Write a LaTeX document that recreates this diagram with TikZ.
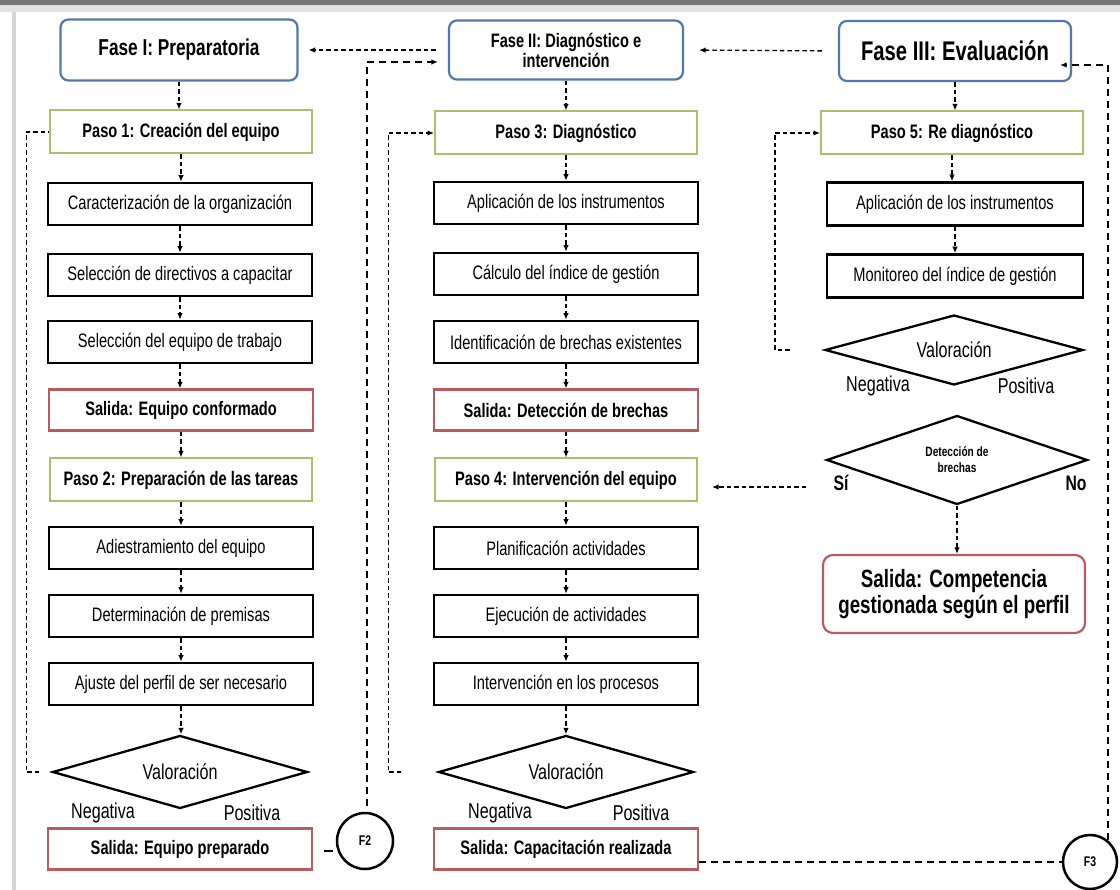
\documentclass[tikz,border=0pt]{standalone}
\usepackage{fontspec}
\setmainfont{Liberation Sans}[FakeStretch=0.75]
\usetikzlibrary{shapes.geometric,arrows.meta}
\definecolor{phaseblue}{RGB}{84,120,168}
\definecolor{pasogreen}{RGB}{168,192,112}
\definecolor{outred}{RGB}{185,92,96}
\definecolor{bardark}{RGB}{118,118,118}
\definecolor{barlight}{RGB}{226,226,226}
\definecolor{sideline}{RGB}{214,214,214}
\tikzset{
  phasebox/.style={draw=phaseblue,line width=2.2pt,rounded corners=8pt,fill=white,inner sep=0pt,align=center,font=\bfseries\fontsize{19.5}{20}\selectfont},
  pasobox/.style={draw=pasogreen,line width=2pt,inner sep=0pt,minimum width=262pt,minimum height=43pt,font=\bfseries\fontsize{19.5}{22}\selectfont},
  actbox/.style={draw=black,line width=2.6pt,inner sep=0pt,minimum width=264pt,minimum height=42pt,font=\fontsize{19.5}{22}\selectfont},
  outbox/.style={draw=outred,line width=2.2pt,inner sep=0pt,minimum width=264pt,minimum height=41pt,font=\bfseries\fontsize{19.5}{22}\selectfont},
  decbox/.style={diamond,aspect=3,draw=black,line width=2.3pt,inner sep=0pt,minimum width=255pt,minimum height=73pt,font=\fontsize{21.5}{23}\selectfont},
  lbl/.style={inner sep=0pt,font=\fontsize{21.5}{23}\selectfont},
  conn/.style={draw=black,circle,line width=2.5pt,inner sep=0pt,font=\bfseries\fontsize{14}{15}\selectfont},
  dsh/.style={line width=1.3pt,dash pattern=on 4.5pt off 3pt},
  bigdsh/.style={line width=1.9pt,dash pattern=on 7pt off 5pt},
  tip/.style={-{Latex[length=6.5pt,width=5.5pt]}}
}
\begin{document}
\begin{tikzpicture}[x=1pt,y=-1pt]
\useasboundingbox (0,0) rectangle (1120,890);
% frame
\fill[barlight] (0,4) rectangle (1120,12);
\fill[bardark] (0,0) rectangle (1120,5);
\fill[sideline] (12,12) rectangle (16,890);

% column 1
\node[phasebox,minimum width=237pt,minimum height=61pt,font=\bfseries\fontsize{23}{25}\selectfont] (f1) at (179,50) {Fase I: Preparatoria};
\node[pasobox] (p1) at (181,132) {Paso 1: Creación del equipo};
\node[actbox] (a1) at (180,204) {Caracterización de la organización};
\node[actbox] (a2) at (180,275) {Selección de directivos a capacitar};
\node[actbox] (a3) at (180,342) {Selección del equipo de trabajo};
\node[outbox] (s1) at (181,410) {Salida: Equipo conformado};
\node[pasobox] (p2) at (181,480) {Paso 2: Preparación de las tareas};
\node[actbox] (a4) at (181,548) {Adiestramiento del equipo};
\node[actbox] (a5) at (181,616) {Determinación de premisas};
\node[actbox] (a6) at (181,684) {Ajuste del perfil de ser necesario};
\node[decbox] (d1) at (180,772) {Valoración};
\node[lbl] (n1) at (103,813) {Negativa};
\node[lbl] (q1) at (252,813) {Positiva};
\node[outbox] (s2) at (180,849) {Salida: Equipo preparado};
\node[conn,minimum size=56pt] (F2) at (365,841) {F2};

% column 2
\node[phasebox,minimum width=234pt,minimum height=59pt] (f2) at (566,50) {Fase II: Diagnóstico e\\intervención};
\node[pasobox] (p3) at (566,133) {Paso 3: Diagnóstico};
\node[actbox] (b1) at (566,203) {Aplicación de los instrumentos};
\node[actbox] (b2) at (566,274) {Cálculo del índice de gestión};
\node[actbox] (b3) at (566,342) {Identificación de brechas existentes};
\node[outbox] (s3) at (566,410) {Salida: Detección de brechas};
\node[pasobox] (p4) at (566,480) {Paso 4: Intervención del equipo};
\node[actbox] (b4) at (566,548) {Planificación actividades};
\node[actbox] (b5) at (566,616) {Ejecución de actividades};
\node[actbox] (b6) at (566,684) {Intervención en los procesos};
\node[decbox] (d2) at (566,772) {Valoración};
\node[lbl] (n2) at (500,813) {Negativa};
\node[lbl] (q2) at (641,813) {Positiva};
\node[outbox] (s4) at (566,849) {Salida: Capacitación realizada};
\node[conn,minimum size=54pt] (F3) at (1090,862) {F3};

% column 3
\node[phasebox,minimum width=232pt,minimum height=60pt,font=\bfseries\fontsize{27}{29}\selectfont] (f3) at (955,51) {Fase III: Evaluación};
\node[pasobox] (p5) at (952,133) {Paso 5: Re diagnóstico};
\node[actbox,minimum width=256pt,minimum height=43pt] (c1) at (955,204) {Aplicación de los instrumentos};
\node[actbox,minimum width=256pt,minimum height=43pt] (c2) at (955,276) {Monitoreo del índice de gestión};
\node[decbox,minimum width=258pt,minimum height=70pt] (d3) at (954,350) {Valoración};
\node[lbl] (n3) at (878,386) {Negativa};
\node[lbl] (q3) at (1026,386) {Positiva};
\node[decbox,minimum width=261pt,minimum height=89pt,align=center,font=\bfseries\fontsize{13.5}{16}\selectfont] (d4) at (957,460) {Detección de\\brechas};
\node[lbl,font=\bfseries\fontsize{21}{23}\selectfont] (si) at (841,483) {Sí};
\node[lbl,font=\bfseries\fontsize{21}{23}\selectfont] (no) at (1076,483) {No};
\node[outbox,rounded corners=10pt,minimum width=262pt,minimum height=78pt,align=center,font=\bfseries\fontsize{25}{26}\selectfont] (s5) at (954,594) {Salida: Competencia\\gestionada según el perfil};

% vertical flow arrows
\foreach \a/\b in {f1/p1,p1/a1,a1/a2,a2/a3,a3/s1,s1/p2,p2/a4,a4/a5,a5/a6,a6/d1,
                   f2/p3,p3/b1,b1/b2,b2/b3,b3/s3,s3/p4,p4/b4,b4/b5,b5/b6,b6/d2,
                   f3/p5,p5/c1,c1/c2,d4/s5}
  \draw[dsh,tip] (\a.south) -- (\a.south |- \b.north);

% phase links
\draw[dsh,tip,shorten <=12pt,shorten >=10pt] (f2.west) -- (f1.east);
\draw[dsh,tip,shorten <=16pt,shorten >=15pt] (f3.west) -- (f2.east);

% feedback loops
\draw[dsh] ([xshift=-12pt]d1.west) -- ++(-13,0) |- (p1.west);
\draw[dsh,tip] ([xshift=-36pt]d2.west) -- ++(-13,0) |- (p3.west);
\draw[dsh,tip] ([xshift=-34pt]d3.west) -- ++(-15,0) |- (p5.west);

% Si -> Paso 4
\coordinate (sifree) at (806,487);
\draw[dsh,tip,shorten >=14pt] (sifree) -- (sifree -| p4.east);

% connectors F2 and F3
\draw[line width=2pt,dash pattern=on 0pt off 11pt on 9pt off 80pt] ([yshift=-2pt]s2.east) -- ([yshift=-2pt]s2.east -| F2.west);
\draw[bigdsh,tip,shorten <=6pt,shorten >=10pt] ([xshift=2pt]F2.north) |- ([yshift=-12pt]f2.west);
\draw[bigdsh] (s4.east |- F3) -- (F3.west);
\draw[bigdsh,tip,shorten >=-12pt] (F3.51) |- ([yshift=-14pt]f3.east);
\end{tikzpicture}
\end{document}
